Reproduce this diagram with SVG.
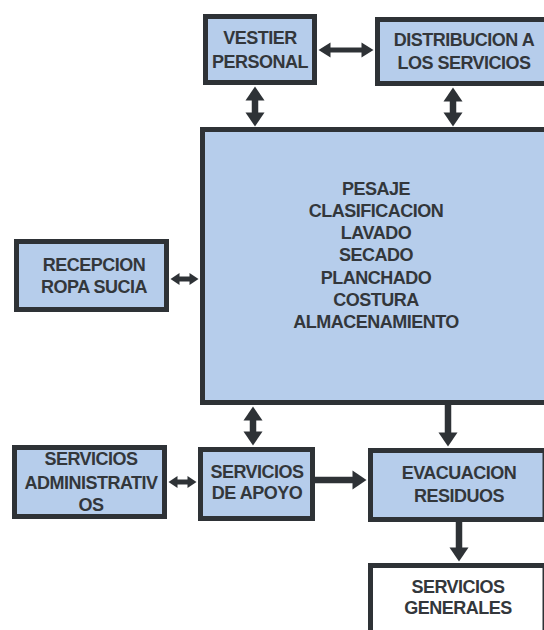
<svg xmlns="http://www.w3.org/2000/svg" width="544" height="630" viewBox="0 0 544 630">
  <defs>
    <style>
      .box { fill: #b6cdeb; stroke: #2e3236; stroke-width: 5; }
      .white { fill: #ffffff; stroke: #2e3236; stroke-width: 5; }
      .t { font-family: "Liberation Sans", Arial, sans-serif; font-weight: bold; font-size: 18px; letter-spacing: -0.5px; fill: #33373b; text-anchor: middle; }
      .c { stroke: #2e3236; stroke-width: 6.5; fill: none; }
      .cs { stroke: #2e3236; stroke-width: 5; fill: none; }
      .big { marker-end: url(#hb); }
      .bigd { marker-start: url(#hb); marker-end: url(#hb); }
      .medd { marker-start: url(#hm); marker-end: url(#hm); }
      .smd { marker-start: url(#hs); marker-end: url(#hs); }
    </style>
    <marker id="hb" markerUnits="userSpaceOnUse" markerWidth="15" markerHeight="19" refX="0.5" refY="9.5" orient="auto-start-reverse" overflow="visible">
      <path d="M0,0 L14,9.5 L0,19 Z" fill="#2e3236"/>
    </marker>
    <marker id="hm" markerUnits="userSpaceOnUse" markerWidth="13" markerHeight="15" refX="0.5" refY="7.5" orient="auto-start-reverse" overflow="visible">
      <path d="M0,0 L12,7.5 L0,15 Z" fill="#2e3236"/>
    </marker>
    <marker id="hs" markerUnits="userSpaceOnUse" markerWidth="10" markerHeight="12" refX="0.5" refY="6" orient="auto-start-reverse" overflow="visible">
      <path d="M0,0 L9,6 L0,12 Z" fill="#2e3236"/>
    </marker>
  </defs>
  <rect width="544" height="630" fill="#ffffff"/>

  <g id="connectors">
    <line class="cs medd" x1="330" y1="50" x2="362" y2="50"/>
    <line class="c bigd" x1="255" y1="100" x2="255" y2="113"/>
    <line class="c bigd" x1="453" y1="101" x2="453" y2="113"/>
    <line class="cs smd" x1="179" y1="279" x2="190" y2="279"/>
    <line class="c bigd" x1="253" y1="420" x2="253" y2="432"/>
    <line class="c big" x1="448" y1="404" x2="448" y2="433"/>
    <line class="cs smd" x1="177" y1="482" x2="188" y2="482"/>
    <line class="c big" x1="314" y1="480" x2="353" y2="480"/>
    <line class="c big" x1="459" y1="521" x2="459" y2="548"/>
  </g>

  <g id="vestier">
    <rect class="box" x="205.5" y="16.5" width="109" height="66"/>
    <text class="t" x="260" y="44">VESTIER</text>
    <text class="t" x="260" y="68">PERSONAL</text>
  </g>
  <g id="distribucion">
    <rect class="box" x="377.5" y="19.5" width="175" height="64"/>
    <text class="t" x="464" y="46">DISTRIBUCION A</text>
    <text class="t" x="464" y="69">LOS SERVICIOS</text>
  </g>
  <g id="proceso">
    <rect class="box" x="202.5" y="129.5" width="350" height="273"/>
    <text class="t" x="376" y="195">PESAJE</text>
    <text class="t" x="376" y="217">CLASIFICACION</text>
    <text class="t" x="376" y="239">LAVADO</text>
    <text class="t" x="376" y="261">SECADO</text>
    <text class="t" x="376" y="284">PLANCHADO</text>
    <text class="t" x="376" y="306">COSTURA</text>
    <text class="t" x="376" y="328">ALMACENAMIENTO</text>
  </g>
  <g id="recepcion">
    <rect class="box" x="16.5" y="241.5" width="150" height="68"/>
    <text class="t" x="94" y="271">RECEPCION</text>
    <text class="t" x="94" y="293">ROPA SUCIA</text>
  </g>
  <g id="administrativos">
    <rect class="box" x="14.5" y="447.5" width="150" height="69"/>
    <text class="t" x="91" y="465">SERVICIOS</text>
    <text class="t" x="91" y="489">ADMINISTRATIV</text>
    <text class="t" x="91" y="511">OS</text>
  </g>
  <g id="apoyo">
    <rect class="box" x="200.5" y="449.5" width="112" height="69"/>
    <text class="t" x="257" y="478">SERVICIOS</text>
    <text class="t" x="257" y="499">DE APOYO</text>
  </g>
  <g id="evacuacion">
    <rect class="box" x="370.5" y="450.5" width="174.5" height="69"/>
    <text class="t" x="459" y="479">EVACUACION</text>
    <text class="t" x="459" y="502">RESIDUOS</text>
  </g>
  <g id="generales">
    <rect class="white" x="370.5" y="565.5" width="174.5" height="80"/>
    <text class="t" x="458" y="593">SERVICIOS</text>
    <text class="t" x="458" y="614">GENERALES</text>
  </g>
</svg>
